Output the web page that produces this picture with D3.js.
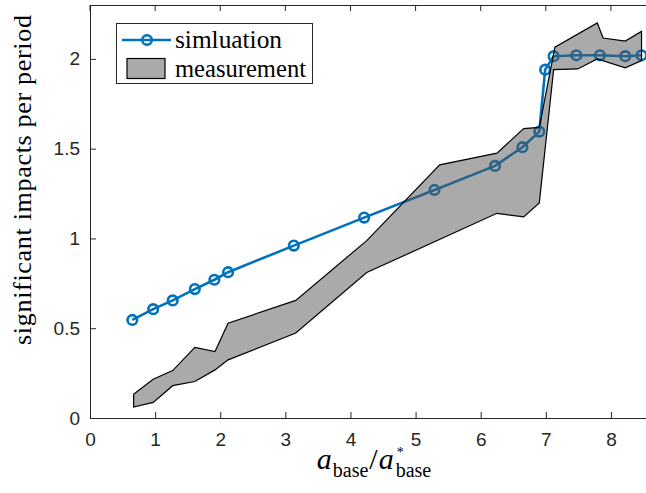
<!DOCTYPE html>
<html>
<head>
<meta charset="utf-8">
<script src="https://cdn.jsdelivr.net/npm/d3@7"></script>
<style>
  body { margin: 0; background: #fff; }
  svg { display: block; }
</style>
</head>
<body>
<script>
// simulation points
const simX = [0.65, 0.97, 1.27, 1.61, 1.91, 2.12, 3.13, 4.21, 5.29, 6.22, 6.64, 6.90, 6.99, 7.12, 7.47, 7.83, 8.22, 8.47];
const simY = [0.546, 0.606, 0.655, 0.718, 0.770, 0.812, 0.960, 1.116, 1.270, 1.404, 1.508, 1.595, 1.940, 2.015, 2.02, 2.02, 2.015, 2.02];

// measurement band, upper and lower edges
const upX = [0.67, 0.97, 1.27, 1.61, 1.92, 2.12, 3.16, 4.25, 5.37, 6.25, 6.66, 6.90, 7.14, 7.79, 7.88, 8.22, 8.47];
const upY = [0.132, 0.216, 0.264, 0.393, 0.370, 0.528, 0.655, 0.988, 1.410, 1.475, 1.612, 1.618, 2.065, 2.200, 2.116, 2.099, 2.153];
const loX = [0.67, 0.97, 1.27, 1.61, 1.92, 2.12, 3.16, 4.25, 6.25, 6.66, 6.90, 7.12, 7.49, 7.79, 8.22, 8.47];
const loY = [0.061, 0.087, 0.180, 0.203, 0.268, 0.324, 0.473, 0.810, 1.140, 1.120, 1.198, 1.940, 1.944, 2.000, 1.950, 1.990];

const xTicks = [0, 1, 2, 3, 4, 5, 6, 7, 8];
const yTicks = [0, 0.5, 1, 1.5, 2];

const W = 646, H = 493;
const mLeft = 90, mRight = 650, mTop = 5, mBottom = 418;
const axisColor = "#262626";
const blue = "#0072BD";
const serif = "Liberation Serif, Times New Roman, serif";

const svg = d3.select("body").append("svg")
    .attr("width", W)
    .attr("height", H);

const x = d3.scaleLinear().domain([0, 8.6]).range([mLeft, mRight]);
const y = d3.scaleLinear().domain([0, 2.3]).range([mBottom, mTop]);

// simulation line + markers
const line = d3.line().x(d => x(d[0])).y(d => y(d[1]));
const simPts = simX.map((v, i) => [v, simY[i]]);

svg.append("path")
    .attr("d", line(simPts))
    .attr("fill", "none")
    .attr("stroke", blue)
    .attr("stroke-width", 2.6);

svg.append("g").selectAll("circle")
    .data(simPts)
    .enter()
    .append("circle")
        .attr("cx", d => x(d[0]))
        .attr("cy", d => y(d[1]))
        .attr("r", 4.8)
        .attr("fill", "none")
        .attr("stroke", blue)
        .attr("stroke-width", 2.6);

// band on top, half transparent
const poly = upX.map((v, i) => [v, upY[i]])
    .concat(loX.map((v, i) => [v, loY[i]]).reverse());

svg.append("path")
    .attr("d", line(poly) + "Z")
    .attr("fill", "#555555")
    .attr("fill-opacity", 0.5)
    .attr("stroke", "#000")
    .attr("stroke-width", 1.2)
    .attr("stroke-linejoin", "miter");

// axes
const xAxis = d3.axisBottom(x).tickValues(xTicks).tickFormat(d3.format("d"))
    .tickSizeInner(-6).tickSizeOuter(0).tickPadding(14);
const yAxis = d3.axisLeft(y).tickValues(yTicks).tickFormat(d => String(d))
    .tickSizeInner(-6).tickSizeOuter(0).tickPadding(10);

const gx = svg.append("g").attr("transform", `translate(0,${mBottom})`).call(xAxis);
const gy = svg.append("g").attr("transform", `translate(${mLeft},0)`).call(yAxis);

// top ticks and top border
svg.append("g").selectAll("line")
    .data(xTicks)
    .enter()
    .append("line")
        .attr("x1", d => x(d)).attr("x2", d => x(d))
        .attr("y1", mTop).attr("y2", mTop + 6)
        .attr("stroke", axisColor);

svg.append("line")
    .attr("x1", mLeft).attr("x2", mRight)
    .attr("y1", mTop + 0.5).attr("y2", mTop + 0.5)
    .attr("stroke", axisColor);

[gx, gy].forEach(g => {
    g.select(".domain").attr("stroke", axisColor).attr("stroke-width", 1);
    g.selectAll(".tick line").attr("stroke", axisColor);
    g.selectAll(".tick text")
        .attr("fill", axisColor)
        .style("font-family", "Liberation Sans, Arial, sans-serif")
        .style("font-size", "19px");
});
gx.selectAll(".tick text").attr("dy", "0.75em");

// y label
svg.append("text")
    .attr("transform", `translate(31,180) rotate(-90)`)
    .attr("text-anchor", "middle")
    .attr("textLength", 330)
    .attr("lengthAdjust", "spacing")
    .style("font-family", serif)
    .style("font-size", "26px")
    .attr("fill", "#000")
    .text("significant impacts per period");

// x label: a_base / a*_base as one text with placed tspans
const pieces = [
    { s: "a", size: 30, dy: 0, it: true },
    { s: "base", size: 20, dy: 8, it: false },
    { s: "/", size: 30, dy: 0, it: false },
    { s: "a", size: 30, dy: 0, it: true },
    { s: "base", size: 20, dy: 8, it: false }
];
const gaps = [1, 1, 1, 2, 0];
const tmp = svg.append("g");
const widths = pieces.map(p => {
    const t = tmp.append("text")
        .style("font-family", serif)
        .style("font-size", p.size + "px")
        .style("font-style", p.it ? "italic" : "normal")
        .text(p.s);
    return t.node().getComputedTextLength();
});
tmp.remove();
const total = d3.sum(widths) + d3.sum(gaps);
let cx = 374 - total / 2;
const xs = pieces.map((p, i) => { const v = cx; cx += widths[i] + gaps[i]; return v; });

const xl = svg.append("text")
    .style("font-family", serif)
    .attr("fill", "#000");
pieces.forEach((p, i) => {
    xl.append("tspan")
        .attr("x", xs[i])
        .attr("y", 469 + p.dy)
        .style("font-size", p.size + "px")
        .style("font-style", p.it ? "italic" : "normal")
        .text(p.s);
});
xl.append("tspan")
    .attr("x", xs[4] + 1)
    .attr("y", 457)
    .style("font-size", "14px")
    .text("*");

// legend
const lg = svg.append("g");
lg.append("rect")
    .attr("x", 116.5).attr("y", 23.5)
    .attr("width", 196).attr("height", 60)
    .attr("fill", "#fff")
    .attr("stroke", axisColor)
    .attr("stroke-width", 1);

lg.append("line")
    .attr("x1", 122).attr("x2", 171)
    .attr("y1", 40).attr("y2", 40)
    .attr("stroke", blue).attr("stroke-width", 2.6);
lg.append("circle")
    .attr("cx", 147).attr("cy", 40).attr("r", 4.8)
    .attr("fill", "none").attr("stroke", blue).attr("stroke-width", 2.6);
lg.append("rect")
    .attr("x", 127).attr("y", 58.5)
    .attr("width", 38).attr("height", 20)
    .attr("fill", "#555555").attr("fill-opacity", 0.5)
    .attr("stroke", "#000").attr("stroke-width", 1.2);

const legendNames = ["simluation", "measurement"];
const legendLen = [107, 131];
lg.selectAll("text.name")
    .data(legendNames)
    .enter()
    .append("text")
        .attr("class", "name")
        .attr("x", 175)
        .attr("y", (d, i) => 48 + i * 29)
        .attr("textLength", (d, i) => legendLen[i])
        .attr("lengthAdjust", "spacingAndGlyphs")
        .style("font-family", serif)
        .style("font-size", "25px")
        .attr("fill", "#000")
        .text(d => d);
</script>
</body>
</html>
